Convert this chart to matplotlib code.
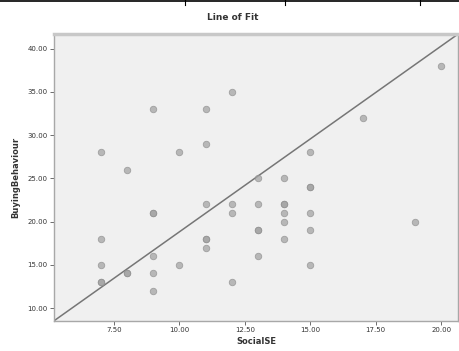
import numpy as np
import matplotlib
matplotlib.use("Agg")
import matplotlib.pyplot as plt
from matplotlib.lines import Line2D

# SocialSE vs BuyingBehaviour
social_se = [7, 7, 7, 7, 7,
             8, 8, 8,
             9, 9, 9, 9, 9, 9,
             10, 10,
             11, 11, 11, 11, 11, 11,
             12, 12, 12, 12,
             13, 13, 13, 13, 13,
             14, 14, 14, 14, 14, 14,
             15, 15, 15, 15, 15, 15,
             17, 19, 20]
buying = [28, 18, 15, 13, 13,
          26, 14, 14,
          33, 21, 21, 16, 14, 12,
          28, 15,
          33, 29, 22, 18, 18, 17,
          35, 22, 21, 13,
          25, 22, 19, 19, 16,
          25, 22, 22, 21, 20, 18,
          28, 24, 24, 21, 19, 15,
          32, 20, 38]

xticks = [7.5, 10.0, 12.5, 15.0, 17.5, 20.0]
yticks = [10, 15, 20, 25, 30, 35, 40]
xlim = (5.2, 20.65)
ylim = (8.5, 41.7)
# fitted line
slope = 2.149
intercept = -2.67

fig = plt.figure(figsize=(4.6, 3.51), dpi=100)
ax = fig.add_axes([0.117, 0.0855, 0.879, 0.8175])
ax.set_facecolor('#f0f0f0')

ax.scatter(social_se, buying, s=22, c='#a4a4a4', edgecolors='#909090',
           linewidths=0.6, alpha=0.75, zorder=3)

xs = np.array(xlim)
ax.plot(xs, intercept + slope * xs, color='#767676', lw=1.1, zorder=2)

ax.set_xlim(xlim)
ax.set_ylim(ylim)
ax.set_xticks(xticks)
ax.set_yticks(yticks)
ax.set_xticklabels(['%.2f' % v for v in xticks])
ax.set_yticklabels(['%.2f' % v for v in yticks])
ax.tick_params(labelsize=5, length=3, width=0.6, color='#555555',
               labelcolor='#333333', pad=1.5)

for s in ax.spines.values():
    s.set_color('#a8a8a8')
    s.set_linewidth(1.0)
ax.spines['top'].set_linewidth(2.5)
ax.spines['top'].set_color('#c8c8c8')

ax.set_xlabel('SocialSE', fontsize=6, fontweight='bold', color='#333333', labelpad=3)
ax.set_ylabel('BuyingBehaviour', fontsize=6, fontweight='bold', color='#333333', labelpad=5)
fig.text(0.507, 0.95, 'Line of Fit', ha='center', va='center',
         fontsize=6.5, fontweight='bold', color='#333333')

# table border remnants at the top edge
fig.add_artist(Line2D([0, 1], [0.996, 0.996], color='black', lw=1.2))
for xp in [185, 285, 420]:
    fig.add_artist(Line2D([xp / 460, xp / 460], [0.985, 1.0], color='black', lw=0.8))

fig.savefig('out.png', dpi=100)
